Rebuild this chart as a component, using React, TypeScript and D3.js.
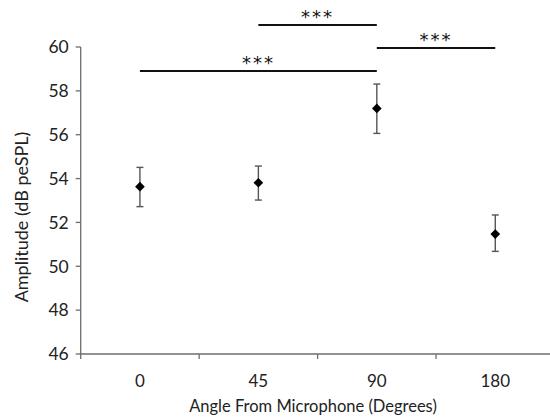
import React from "react";
import * as d3 from "d3";

const categories = ["0", "45", "90", "180"];
const means = [53.63, 53.81, 57.2, 51.47];
const errUpper = [54.51, 54.57, 58.31, 52.34];
const errLower = [52.72, 53.02, 56.06, 50.68];
const yTicks = [46, 48, 50, 52, 54, 56, 58, 60];
const sigFrom = ["0", "45", "90"];
const sigTo = ["90", "90", "180"];
const sigLevel = [58.9, 61.0, 59.95];
const sigLabel = ["***", "***", "***"];

const W = 550;
const H = 418;
const FONT = "Lato, 'Open Sans', 'Liberation Sans', sans-serif";

export default function App() {
  const left = 80.7;
  const right = 554.5;
  const x = d3.scaleBand<string>().domain(categories).range([left, right]).padding(0);
  const y = d3.scaleLinear().domain([46, 60]).range([354, 47]);
  const cx = (c: string) => (x(c) as number) + x.bandwidth() / 2;
  const bounds = categories.map((c) => x(c) as number);
  const axisColor = "#6e6e6e";
  const diamond = d3.symbol().type(d3.symbolDiamond2).size(60)() as string;
  const cap = 3.5;

  return (
    <svg
      width={W}
      height={H}
      style={{ position: "absolute", left: 0, top: 0, background: "#fff" }}
      fontFamily={FONT}
    >
      <rect width={W} height={H} fill="#fff" />
      {/* y axis */}
      <line x1={left} x2={left} y1={y(60)} y2={y(46)} stroke={axisColor} strokeWidth={1.3} />
      {yTicks.map((t) => (
        <g key={t}>
          <line x1={left - 5} x2={left} y1={y(t)} y2={y(t)} stroke={axisColor} strokeWidth={1.3} />
          <text x={left - 12} y={y(t)} dy="0.36em" textAnchor="end" fontSize={17.5} fill="#222">
            {t}
          </text>
        </g>
      ))}
      {/* x axis */}
      <line x1={left} x2={right} y1={y(46)} y2={y(46)} stroke={axisColor} strokeWidth={1.3} />
      {bounds.map((b, i) => (
        <line key={i} x1={b} x2={b} y1={y(46)} y2={y(46) + 5} stroke={axisColor} strokeWidth={1.3} />
      ))}
      {categories.map((c) => (
        <text key={c} x={cx(c)} y={387} textAnchor="middle" fontSize={17} fill="#222">
          {c}
        </text>
      ))}
      <text x={313} y={412} textAnchor="middle" fontSize={16.5} fill="#222">
        Angle From Microphone (Degrees)
      </text>
      <text
        transform={`translate(28,217) rotate(-90)`}
        textAnchor="middle"
        fontSize={18}
        fill="#222"
      >
        Amplitude (dB peSPL)
      </text>
      {/* error bars */}
      {categories.map((c, i) => (
        <g key={c} stroke="#555" strokeWidth={1.4}>
          <line x1={cx(c)} x2={cx(c)} y1={y(errUpper[i])} y2={y(errLower[i])} />
          <line x1={cx(c) - cap} x2={cx(c) + cap} y1={y(errUpper[i])} y2={y(errUpper[i])} />
          <line x1={cx(c) - cap} x2={cx(c) + cap} y1={y(errLower[i])} y2={y(errLower[i])} />
        </g>
      ))}
      {categories.map((c, i) => (
        <path key={c} d={diamond} transform={`translate(${cx(c)},${y(means[i])})`} fill="#000" />
      ))}
      {/* significance bars */}
      {sigLevel.map((lv, i) => {
        const x1 = cx(sigFrom[i]);
        const x2 = cx(sigTo[i]);
        return (
          <g key={i}>
            <line x1={x1} x2={x2} y1={y(lv)} y2={y(lv)} stroke="#111" strokeWidth={2} />
            <text
              x={(x1 + x2) / 2}
              y={y(lv) - 2}
              textAnchor="middle"
              fontSize={18}
              letterSpacing={2}
              fontFamily="'DejaVu Sans', sans-serif"
              fill="#111"
            >
              {sigLabel[i]}
            </text>
          </g>
        );
      })}
    </svg>
  );
}
